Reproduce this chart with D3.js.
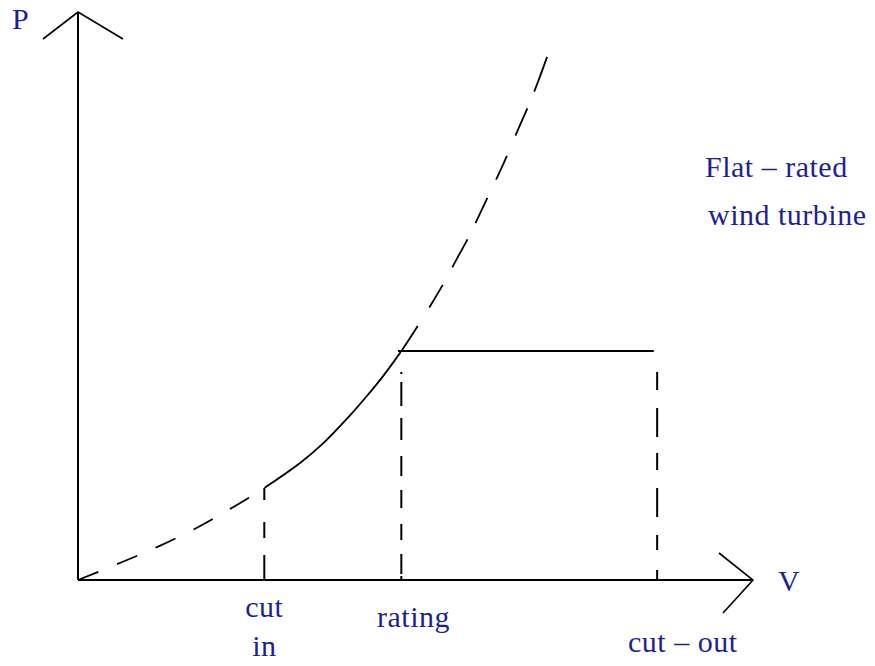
<!DOCTYPE html>
<html>
<head>
<meta charset="utf-8">
<script src="https://cdn.jsdelivr.net/npm/d3@7"></script>
<style>
  html, body { margin: 0; padding: 0; background: #fff; }
  svg { display: block; }
  text { font-family: "Liberation Serif", "Times New Roman", serif; font-size: 30px; fill: #1f1f95; letter-spacing: 0.5px; }
</style>
</head>
<body>
<svg id="chart" width="875" height="666"></svg>
<script>
// ---- data (V and P in arbitrary relative units 0..100) ----
const curveV = [0, 6.2, 12.1, 18.1, 21.5, 25.2, 27.6, 32.9, 35.9, 40.3, 42.8, 45.2, 47.9, 50.8, 54.2, 56.1, 57.8, 60.3, 63.0, 65.3, 67.4, 69.5];
const curveP = [0, 3.0, 6.0, 9.5, 11.8, 14.4, 16.2, 20.6, 23.6, 29.0, 32.4, 35.9, 40.3, 45.6, 52.3, 56.5, 60.2, 66.4, 73.2, 79.6, 85.4, 92.1];
const cutInV = 27.6;
const ratedV = 47.9;
const cutOutV = 85.8;
const ratedP = 40.3;
const flatStartV = 47.4;
const flatEndV = 85.3;
const markerLabels = [
  { v: cutInV, lines: ["cut", "in"] },
  { v: ratedV, lines: ["rating"] },
  { v: cutOutV, lines: ["cut \u2013 out"] }
];
const axisLabels = { x: "V", y: "P" };
const noteLines = ["Flat \u2013 rated", "wind turbine"];

// ---- scales ----
const svg = d3.select("#chart");
const x = d3.scaleLinear().domain([0, 100]).range([78, 753]);
const y = d3.scaleLinear().domain([0, 100]).range([580, 12]);

const pts = curveV.map((v, i) => ({ v, p: curveP[i] }));
const line = d3.line().x(d => x(d.v)).y(d => y(d.p)).curve(d3.curveCatmullRom.alpha(0.5));

// clip regions for the three curve segments
const defs = svg.append("defs");
const clips = [
  { id: "segA", x0: x(0) - 5, x1: x(cutInV) },
  { id: "segB", x0: x(cutInV), x1: x(ratedV) },
  { id: "segC", x0: x(ratedV), x1: 875 }
];
clips.forEach(c => {
  defs.append("clipPath").attr("id", c.id)
    .append("rect").attr("x", c.x0).attr("y", 0).attr("width", c.x1 - c.x0).attr("height", 666);
});

const g = svg.append("g").attr("fill", "none").attr("stroke", "#000");
const d = line(pts);
g.append("path").attr("d", d).attr("clip-path", "url(#segA)")
  .attr("stroke-width", 1.8).attr("stroke-dasharray", "22,20");
g.append("path").attr("d", d).attr("clip-path", "url(#segB)")
  .attr("stroke-width", 1.8);
const upperPath = g.append("path").attr("d", d).attr("clip-path", "url(#segC)")
  .attr("stroke-width", 1.8);

// find the path length at the rating point so the upper dashes start there
const node = upperPath.node();
const total = node.getTotalLength();
let lo = 0, hi = total;
for (let k = 0; k < 40; k++) {
  const mid = (lo + hi) / 2;
  if (node.getPointAtLength(mid).x < x(ratedV)) lo = mid; else hi = mid;
}
upperPath.attr("stroke-dasharray", "0," + lo.toFixed(1) + ",30,22,26,20,32,18,28,20,26,22,30,18,40,400");

// flat rated line
g.append("line")
  .attr("x1", x(flatStartV)).attr("x2", x(flatEndV))
  .attr("y1", y(ratedP)).attr("y2", y(ratedP))
  .attr("stroke-width", 2);

// vertical dashed markers
const pAt = v => {
  const i = d3.bisector(q => q.v).left(pts, v);
  if (i <= 0) return pts[0].p;
  const a = pts[i - 1], b = pts[i] || a;
  return b.v === a.v ? a.p : a.p + (b.p - a.p) * (v - a.v) / (b.v - a.v);
};
g.append("line")
  .attr("x1", x(cutInV)).attr("x2", x(cutInV))
  .attr("y1", y(pAt(cutInV))).attr("y2", y(0))
  .attr("stroke-width", 2).attr("stroke-dasharray", "12,22,16,17,30");
g.append("line")
  .attr("x1", x(ratedV)).attr("x2", x(ratedV))
  .attr("y1", y(ratedP) + 21).attr("y2", y(0))
  .attr("stroke-width", 2).attr("stroke-dasharray", "2,8,24,12,22,16,20,14,18,16,16,14,20");
g.append("line")
  .attr("x1", x(cutOutV)).attr("x2", x(cutOutV))
  .attr("y1", y(ratedP) + 21).attr("y2", y(0))
  .attr("stroke-width", 2).attr("stroke-dasharray", "18,18,29,16,17,18,29,18,15,20,12");

// axes with arrowheads
const ax = svg.append("g").attr("fill", "none").attr("stroke", "#000").attr("stroke-width", 2);
ax.append("line").attr("x1", x(0)).attr("y1", y(0)).attr("x2", x(0)).attr("y2", y(100));
ax.append("line").attr("x1", x(0)).attr("y1", y(0)).attr("x2", x(100)).attr("y2", y(0));
ax.append("polyline").attr("stroke-width", 1.6)
  .attr("points", [[x(0) - 35, y(100) + 27], [x(0), y(100)], [x(0) + 45, y(100) + 27]].join(" "));
ax.append("polyline").attr("stroke-width", 1.6)
  .attr("points", [[x(100) - 34, y(0) - 27], [x(100), y(0)], [x(100) - 30, y(0) + 33]].join(" "));

// texts
const t = svg.append("g");
t.append("text").attr("x", 12).attr("y", 29).text(axisLabels.y);
t.append("text").attr("x", 778).attr("y", 591).text(axisLabels.x);

t.append("text").attr("x", x(cutInV)).attr("y", 617).attr("text-anchor", "middle").text(markerLabels[0].lines[0]);
t.append("text").attr("x", x(cutInV)).attr("y", 656).attr("text-anchor", "middle").text(markerLabels[0].lines[1]);
t.append("text").attr("x", 377).attr("y", 627).text(markerLabels[1].lines[0]);
t.append("text").attr("x", 628).attr("y", 652).text(markerLabels[2].lines[0]);

t.append("text").attr("x", 705).attr("y", 177).text(noteLines[0]);
t.append("text").attr("x", 708).attr("y", 225).text(noteLines[1]);
</script>
</body>
</html>
